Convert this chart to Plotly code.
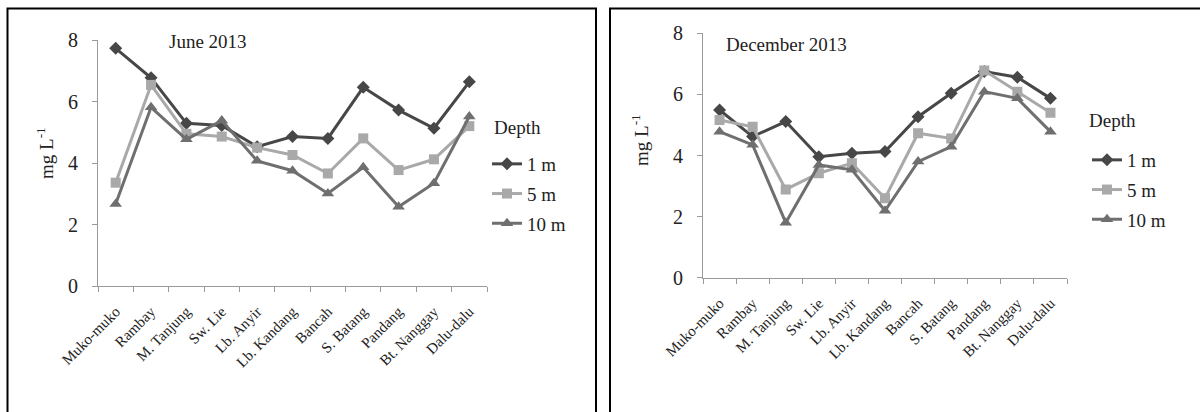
import plotly.graph_objects as go

# Sampling stations along the river
sites = ["Muko-muko", "Rambay", "M. Tanjung", "Sw. Lie", "Lb. Anyir", "Lb. Kandang",
         "Bancah", "S. Batang", "Pandang", "Bt. Nanggay", "Dalu-dalu"]

depth_labels = ["1 m", "5 m", "10 m"]

# June 2013 concentrations (mg L-1)
june_1m = [7.73, 6.77, 5.29, 5.22, 4.53, 4.86, 4.80, 6.46, 5.72, 5.13, 6.64]
june_5m = [3.36, 6.54, 4.95, 4.86, 4.50, 4.26, 3.66, 4.80, 3.77, 4.12, 5.20]
june_10m = [2.67, 5.81, 4.77, 5.38, 4.07, 3.75, 3.01, 3.86, 2.58, 3.34, 5.51]

# December 2013 concentrations (mg L-1)
dec_1m = [5.49, 4.62, 5.11, 3.96, 4.07, 4.13, 5.27, 6.04, 6.75, 6.56, 5.87]
dec_5m = [5.16, 4.94, 2.89, 3.42, 3.75, 2.60, 4.73, 4.56, 6.78, 6.09, 5.40]
dec_10m = [4.78, 4.35, 1.80, 3.69, 3.53, 2.19, 3.80, 4.29, 6.09, 5.87, 4.78]

y_ticks = [0, 2, 4, 6, 8]

W, H = 1200, 412
FONT = "Liberation Serif, Times New Roman, serif"
TXT = "#222222"

colors = ["#474747", "#a9a9a9", "#6f6f6f"]
symbols = ["diamond", "square", "triangle-up"]
msizes = [10, 10, 11]


def px(x):
    return x / W


def py(y):
    return 1 - y / H


fig = go.Figure()

panels = [
    ((june_1m, june_5m, june_10m), "x", "y", "legend"),
    ((dec_1m, dec_5m, dec_10m), "x2", "y2", "legend2"),
]

for series, xa, ya, lg in panels:
    for i, vals in enumerate(series):
        fig.add_trace(go.Scatter(
            x=sites, y=vals, xaxis=xa, yaxis=ya, name=depth_labels[i],
            mode="lines+markers",
            line=dict(color=colors[i], width=3),
            marker=dict(symbol=symbols[i], size=msizes[i], color=colors[i]),
            legend=lg, legendgroup=lg + str(i),
        ))

axis_common = dict(
    showline=True, linecolor="#9a9a9a", linewidth=1,
    ticks="outside", tickcolor="#9a9a9a", ticklen=5,
    showgrid=False, zeroline=False, automargin=False,
)

xaxis_common = dict(
    axis_common, type="category", range=[-0.5, 10.5], tickson="boundaries",
    tickangle=-45, ticklabelstandoff=10,
    tickfont=dict(family=FONT, size=15, color=TXT),
)

yaxis_common = dict(
    axis_common, range=[0, 8], tickvals=y_ticks, ticklabelstandoff=10,
    tickfont=dict(family=FONT, size=20, color=TXT),
)

legend_common = dict(
    font=dict(family=FONT, size=19, color=TXT),
    bgcolor="rgba(0,0,0,0)", xanchor="left", yanchor="top",
    traceorder="grouped", tracegroupgap=2,
)

fig.update_layout(
    template="none",
    width=W, height=H,
    margin=dict(l=0, r=0, t=0, b=0, autoexpand=False),
    paper_bgcolor="white", plot_bgcolor="white",
    font=dict(family=FONT, color=TXT),
    xaxis=dict(xaxis_common, domain=[px(98), px(487)], anchor="y"),
    yaxis=dict(yaxis_common, domain=[py(286), py(40)], anchor="x"),
    xaxis2=dict(xaxis_common, domain=[px(703), px(1067)], anchor="y2"),
    yaxis2=dict(yaxis_common, domain=[py(277.7), py(33.3)], anchor="x2"),
    legend=dict(legend_common, x=px(487), y=py(145)),
    legend2=dict(legend_common, x=px(1087), y=py(141)),
    showlegend=True,
)

# Panel titles, legend headings and y-axis titles
text_font = dict(family=FONT, size=19, color=TXT)
for label, xc, yc, anchor in [("June 2013", 208, 42, "center"),
                              ("December 2013", 786, 45, "center"),
                              ("Depth", 492, 128, "left"),
                              ("Depth", 1087, 121, "left")]:
    fig.add_annotation(text=label, x=px(xc), y=py(yc), xref="paper", yref="paper",
                       xanchor=anchor, yanchor="middle", showarrow=False, font=text_font)
for xc, yc in [(45, 153), (640, 140)]:
    fig.add_annotation(text="mg L<sup>-1</sup>", x=px(xc), y=py(yc), xref="paper", yref="paper",
                       xanchor="center", yanchor="middle", showarrow=False, textangle=-90,
                       font=text_font)

# Panel frames
fig.add_shape(type="rect", xref="paper", yref="paper",
              x0=px(7.5), x1=px(596), y0=py(420), y1=py(8.5),
              line=dict(color="black", width=2), fillcolor="rgba(0,0,0,0)")
fig.add_shape(type="rect", xref="paper", yref="paper",
              x0=px(610), x1=px(1210), y0=py(420), y1=py(8.5),
              line=dict(color="black", width=2), fillcolor="rgba(0,0,0,0)")

fig.write_html("out.html")
